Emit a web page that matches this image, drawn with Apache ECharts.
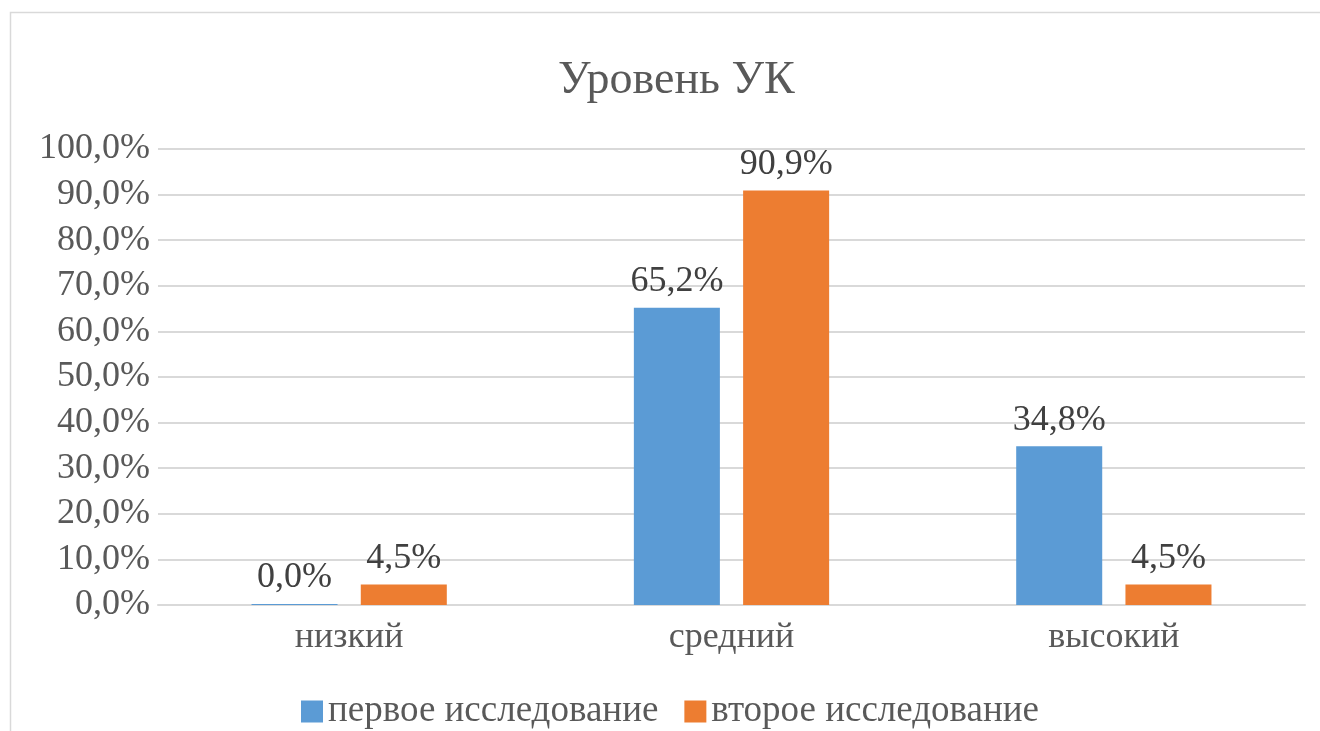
<!DOCTYPE html>
<html><head><meta charset="utf-8">
<script src="https://cdn.jsdelivr.net/npm/echarts@6/dist/echarts.min.js"></script>
<style>html,body{margin:0;padding:0;background:#fff}#c{width:1320px;height:731px}</style>
</head><body><div id="c"></div>
<script>
const titleText = 'Уровень УК';
const categories = ['низкий', 'средний', 'высокий'];
const seriesNames = ['первое исследование', 'второе исследование'];
const series1 = [0.0, 65.2, 34.8];
const series2 = [4.5, 90.9, 4.5];
const colors = ['#5B9BD5', '#ED7D31'];
const font = '"Liberation Serif", "Times New Roman", serif';
const txt = '#595959';
const fmt = v => v.toFixed(1).replace('.', ',') + '%';

const chart = echarts.init(document.getElementById('c'));
chart.setOption({
  animation: false,
  color: colors,
  graphic: [{type: 'rect', shape: {x: 10.5, y: 12.5, width: 1330, height: 740}, style: {fill: 'none', stroke: '#D9D9D9', lineWidth: 1.5}, silent: true, z: -1}],
  title: {text: titleText, left: 553, top: 53, textStyle: {fontFamily: font, fontSize: 46, fontWeight: 'normal', color: txt}},
  legend: {bottom: -4, left: 296, itemWidth: 22, itemHeight: 22, itemGap: 26, icon: 'rect',
    textStyle: {fontFamily: font, fontSize: 37, color: txt}, data: seriesNames},
  grid: {left: 158, right: 15, top: 149, bottom: 126, containLabel: false},
  xAxis: {type: 'category', data: categories,
    axisLine: {lineStyle: {color: '#D9D9D9', width: 2}}, axisTick: {show: false},
    axisLabel: {fontFamily: font, fontSize: 36, color: txt, margin: 15}},
  yAxis: {type: 'value', min: 0, max: 100, interval: 10,
    axisLine: {show: false}, axisTick: {show: false},
    splitLine: {lineStyle: {color: '#D9D9D9', width: 2}},
    axisLabel: {fontFamily: font, fontSize: 36, color: txt, margin: 8, formatter: v => fmt(v)}},
  series: [
    {name: seriesNames[0], type: 'bar', data: series1, barWidth: '22.5%', barGap: '27%', barMinHeight: 1,
      label: {show: true, position: 'top', distance: 8, fontFamily: font, fontSize: 36, color: '#404040', formatter: p => fmt(p.value)}},
    {name: seriesNames[1], type: 'bar', data: series2, barWidth: '22.5%', barGap: '27%',
      label: {show: true, position: 'top', distance: 8, fontFamily: font, fontSize: 36, color: '#404040', formatter: p => fmt(p.value)}}
  ]
});
</script></body></html>
